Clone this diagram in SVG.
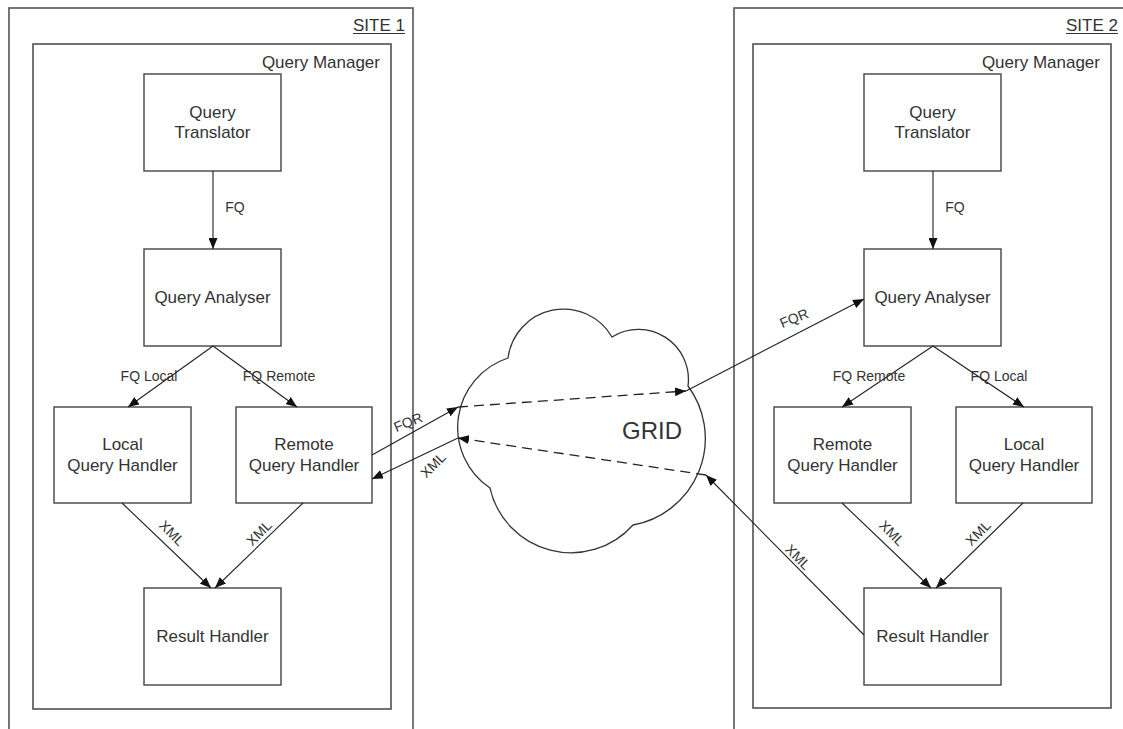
<svg xmlns="http://www.w3.org/2000/svg" width="1123" height="729" viewBox="0 0 1123 729">
<defs>
<marker id="ah" markerUnits="userSpaceOnUse" markerWidth="11" markerHeight="9" refX="11" refY="4.5" orient="auto">
<path d="M0,0 L11,4.5 L0,9 z" fill="#111"/>
</marker>
<style>
.site{fill:none;stroke:#555;stroke-width:1.6}
.qm{fill:none;stroke:#444;stroke-width:1.5}
.box{fill:#fff;stroke:#444;stroke-width:1.4}
.t{font-family:"Liberation Sans",Arial,sans-serif;font-size:17px;fill:#333;text-anchor:middle}
.tr{font-family:"Liberation Sans",Arial,sans-serif;font-size:17px;fill:#333;text-anchor:end}
.l{font-family:"Liberation Sans",Arial,sans-serif;font-size:14px;fill:#333;text-anchor:middle}
.c{fill:none;stroke:#222;stroke-width:1.1;marker-end:url(#ah)}
.d{fill:none;stroke:#222;stroke-width:1.3;stroke-dasharray:10,6;marker-end:url(#ah)}
</style>
</defs>
<rect width="1123" height="729" fill="#fff"/>

<g id="site1">
<rect class="site" x="9" y="8" width="404" height="740"/>
<text class="tr" x="405" y="31">SITE 1</text>
<line x1="353" y1="33.5" x2="405" y2="33.5" stroke="#333" stroke-width="1"/>
</g>
<g id="qm1">
<rect class="qm" x="33" y="44" width="358" height="665"/>
<text class="tr" x="380" y="68">Query Manager</text>
</g>
<g id="site2">
<rect class="site" x="734" y="8" width="404" height="740"/>
<text class="tr" x="1118" y="31">SITE 2</text>
<line x1="1066" y1="33.5" x2="1118" y2="33.5" stroke="#333" stroke-width="1"/>
</g>
<g id="qm2">
<rect class="qm" x="753" y="44" width="358" height="664"/>
<text class="tr" x="1100" y="68">Query Manager</text>
</g>

<g id="grid">
<path d="M508,358 A56,56 0 0 1 612,337 A50,50 0 0 1 688,386 A88,88 0 0 1 633,525 A83,83 0 0 1 490,488 A73,73 0 0 1 508,358 Z" fill="#fff" stroke="#333" stroke-width="1.3"/>
<text x="652" y="439" font-family="Liberation Sans, Arial, sans-serif" font-size="24" fill="#333" text-anchor="middle">GRID</text>
</g>

<g id="qt1"><rect class="box" x="144" y="74" width="137" height="97"/><text class="t" x="212.5" y="118">Query</text><text class="t" x="212.5" y="138">Translator</text></g>
<g id="qa1"><rect class="box" x="144" y="249" width="137" height="97"/><text class="t" x="212.5" y="303">Query Analyser</text></g>
<g id="lqh1"><rect class="box" x="54" y="407" width="137" height="96"/><text class="t" x="122.5" y="450">Local</text><text class="t" x="122.5" y="471">Query Handler</text></g>
<g id="rqh1"><rect class="box" x="236" y="407" width="136" height="96"/><text class="t" x="304" y="450">Remote</text><text class="t" x="304" y="471">Query Handler</text></g>
<g id="rh1"><rect class="box" x="144" y="588" width="137" height="97"/><text class="t" x="212.5" y="642">Result Handler</text></g>

<g id="qt2"><rect class="box" x="864" y="74" width="137" height="97"/><text class="t" x="932.5" y="118">Query</text><text class="t" x="932.5" y="138">Translator</text></g>
<g id="qa2"><rect class="box" x="864" y="249" width="137" height="97"/><text class="t" x="932.5" y="303">Query Analyser</text></g>
<g id="rqh2"><rect class="box" x="774" y="407" width="137" height="96"/><text class="t" x="842.5" y="450">Remote</text><text class="t" x="842.5" y="471">Query Handler</text></g>
<g id="lqh2"><rect class="box" x="956" y="407" width="136" height="96"/><text class="t" x="1024" y="450">Local</text><text class="t" x="1024" y="471">Query Handler</text></g>
<g id="rh2"><rect class="box" x="864" y="588" width="137" height="97"/><text class="t" x="932.5" y="642">Result Handler</text></g>

<g id="connectors">
<line class="c" x1="213" y1="171" x2="213" y2="249"/>
<line class="c" x1="213" y1="346" x2="128" y2="407"/>
<line class="c" x1="213" y1="346" x2="297" y2="407"/>
<line class="c" x1="122" y1="503" x2="211" y2="588"/>
<line class="c" x1="303" y1="503" x2="215" y2="588"/>
<line class="c" x1="372" y1="455" x2="458" y2="407"/>
<line class="d" x1="458" y1="407" x2="686" y2="391"/>
<line class="c" x1="686" y1="391" x2="864" y2="299"/>
<line class="c" x1="864" y1="635" x2="706" y2="475"/>
<line class="d" x1="706" y1="475" x2="458" y2="438"/>
<line class="c" x1="458" y1="438" x2="372" y2="479"/>
<line class="c" x1="933" y1="171" x2="933" y2="249"/>
<line class="c" x1="933" y1="346" x2="842" y2="407"/>
<line class="c" x1="933" y1="346" x2="1024" y2="407"/>
<line class="c" x1="842" y1="503" x2="931" y2="588"/>
<line class="c" x1="1023" y1="503" x2="936" y2="588"/>

<text class="l" x="235" y="212">FQ</text>
<text class="l" x="149" y="381">FQ Local</text>
<text class="l" x="279" y="381">FQ Remote</text>
<text class="l" transform="translate(172,533) rotate(45)" y="5">XML</text>
<text class="l" transform="translate(259,533) rotate(-45)" y="5">XML</text>
<text class="l" transform="translate(408,422) rotate(-22)" y="5">FQR</text>
<text class="l" transform="translate(433,465) rotate(-45)" y="5">XML</text>
<text class="l" transform="translate(794,318) rotate(-22)" y="5">FQR</text>
<text class="l" transform="translate(798,557) rotate(45)" y="5">XML</text>
<text class="l" x="955" y="212">FQ</text>
<text class="l" x="869" y="381">FQ Remote</text>
<text class="l" x="999" y="381">FQ Local</text>
<text class="l" transform="translate(892,533) rotate(45)" y="5">XML</text>
<text class="l" transform="translate(978,533) rotate(-45)" y="5">XML</text>
</g>
</svg>
